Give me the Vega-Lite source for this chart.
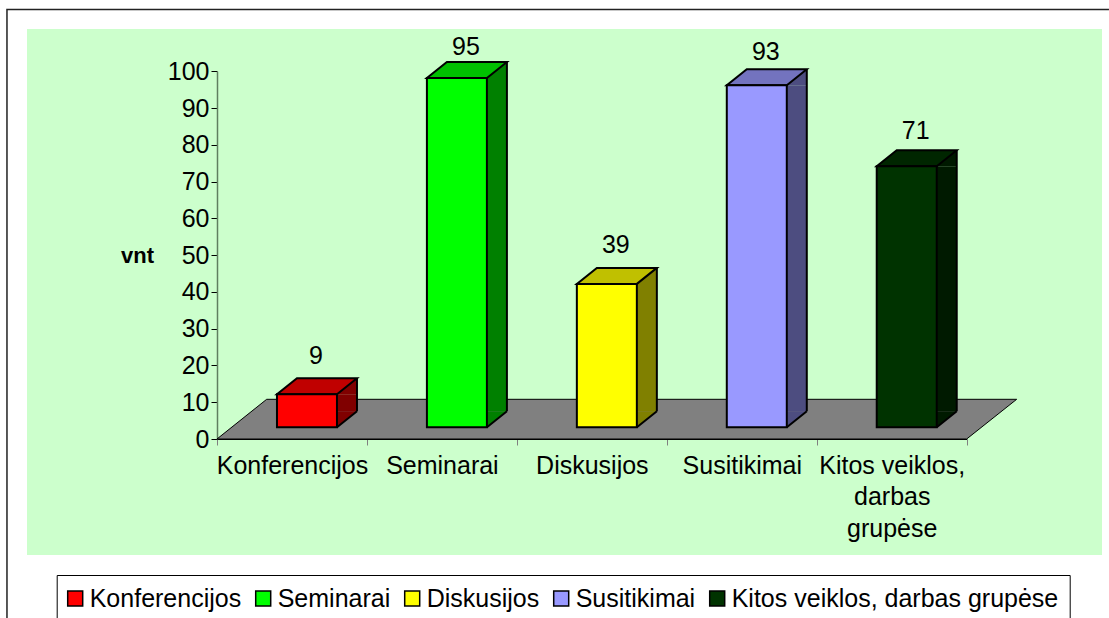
{
"$schema":"https://vega.github.io/schema/vega-lite/v6.json",
"width":1075,"height":526,"autosize":{"type":"none"},
"padding":{"left":27,"top":29,"right":7,"bottom":63},
"background":"white",
"view":{"fill":"#CCFFCC","stroke":null},
"config":{"font":"Liberation Sans"},
"data":{"values":[
{"cat":"Konferencijos","v":9},
{"cat":"Seminarai","v":95},
{"cat":"Diskusijos","v":39},
{"cat":"Susitikimai","v":93},
{"cat":"Kitos veiklos, darbas grupėse","v":71}
]},
"encoding":{
"x":{"field":"cat","type":"nominal","sort":null,"title":null,
"scale":{"type":"band","domain":["Konferencijos","Seminarai","Diskusijos","Susitikimai","Kitos veiklos, darbas grupėse"],"range":[190,939.7],"paddingInner":0,"paddingOuter":0},
"axis":{"orient":"bottom","offset":-116,"labelAngle":0,"tickBand":"extent","tickSize":6,"tickColor":"#808080","tickWidth":1,"domainColor":"#000000","grid":false,"labelFont":"Liberation Sans","labelFontSize":25,"labelColor":"#000000","labelPadding":8,"labelLimit":400,"labelLineHeight":31.5,"labelBaseline":"top",
"labelExpr":"datum.label=='Kitos veiklos, darbas grupėse'?['Kitos veiklos,','darbas','grupėse']:datum.label"}},
"y":{"field":"v","type":"quantitative","title":"vnt",
"scale":{"domain":[0,100],"range":[410,42.3],"nice":false},
"axis":{"orient":"left","offset":-190,"values":[0,10,20,30,40,50,60,70,80,90,100],"tickSize":6,"tickColor":"#000000","domainColor":"#5F7F5F","domainWidth":1.5,"grid":false,"labelFont":"Liberation Sans","labelFontSize":25,"labelColor":"#000000","labelPadding":2,
"titleFont":"Liberation Sans","titleFontSize":22,"titleFontWeight":"bold","titleColor":"#000000","titleAngle":0,"titleX":-80,"titleY":226,"titleAlign":"center","titleBaseline":"middle"}}
},
"layer":[
{"transform":[{"filter":"datum.cat=='Konferencijos'"}],
"mark":{"type":"point","shape":"M-285 179L-285 -429.5L817 -429.5","size":4,"filled":false,"fill":"transparent","stroke":"#222222","strokeWidth":1.5,"opacity":1},
"encoding":{"y":{"datum":0}}},
{"transform":[{"filter":"datum.cat=='Konferencijos'"}],
"mark":{"type":"point","shape":"M-75 0L674.7 0L724.7 -39.7L-25.3 -39.7Z","size":4,"filled":true,"fill":"#808080","stroke":"#000000","strokeWidth":1,"opacity":1},
"encoding":{"y":{"datum":0}}},
{"mark":{"type":"bar","width":20,"xOffset":55,"yOffset":-11.7,"y2Offset":-27.7},
"encoding":{"y2":{"datum":0},"fill":{"field":"cat","type":"nominal","legend":null,"scale":{"domain":["Konferencijos","Seminarai","Diskusijos","Susitikimai","Kitos veiklos, darbas grupėse"],"range":["#800000","#008000","#808000","#4D4D80","#001A00"]}}}},
{"mark":{"type":"point","shape":"M45 -11.7L45 -27.7L65 -27.7Z","size":4,"filled":true,"opacity":1},
"encoding":{"y":{"datum":0},"fill":{"field":"cat","type":"nominal","legend":null,"scale":{"domain":["Konferencijos","Seminarai","Diskusijos","Susitikimai","Kitos veiklos, darbas grupėse"],"range":["#800000","#008000","#808000","#4D4D80","#001A00"]}}}},
{"mark":{"type":"point","shape":"M45 -11.7L65 -27.7L65 -11.7Z","size":4,"filled":true,"opacity":1},
"encoding":{"fill":{"field":"cat","type":"nominal","legend":null,"scale":{"domain":["Konferencijos","Seminarai","Diskusijos","Susitikimai","Kitos veiklos, darbas grupėse"],"range":["#800000","#008000","#808000","#4D4D80","#001A00"]}}}},
{"mark":{"type":"point","shape":"M-15 -11.7L45 -11.7L65 -27.7L5 -27.7Z","size":4,"filled":true,"opacity":1,"stroke":"#000000","strokeWidth":2},
"encoding":{"fill":{"field":"cat","type":"nominal","legend":null,"scale":{"domain":["Konferencijos","Seminarai","Diskusijos","Susitikimai","Kitos veiklos, darbas grupėse"],"range":["#C00000","#00C000","#C0C000","#7373BF","#002600"]}}}},
{"mark":{"type":"rule","xOffset":65,"yOffset":-27.7,"y2Offset":-27.7,"stroke":"#000000","strokeWidth":2},
"encoding":{"y2":{"datum":0}}},
{"mark":{"type":"point","shape":"M45 -11.7L65 -27.7","size":4,"filled":false,"fill":"transparent","stroke":"#000000","strokeWidth":2,"opacity":1},
"encoding":{"y":{"datum":0}}},
{"mark":{"type":"bar","width":60,"xOffset":15,"yOffset":-11.7,"y2Offset":-11.7,"stroke":"#000000","strokeWidth":2},
"encoding":{"y2":{"datum":0},"fill":{"field":"cat","type":"nominal","scale":{"domain":["Konferencijos","Seminarai","Diskusijos","Susitikimai","Kitos veiklos, darbas grupėse"],"range":["#FF0000","#00FF00","#FFFF00","#9999FF","#003300"]},
"legend":{"orient":"none","legendX":29.7,"legendY":546,"direction":"horizontal","columns":5,"gridAlign":"none","title":null,"symbolType":"square","symbolSize":225,"symbolStrokeColor":"#000000","symbolStrokeWidth":1.5,"symbolOffset":-5,"strokeColor":"#000000","fillColor":"#FFFFFF","padding":11,"labelFont":"Liberation Sans","labelFontSize":25,"labelColor":"#000000","labelLimit":500,"labelOffset":2,"columnPadding":11}}}},
{"mark":{"type":"text","font":"Liberation Sans","fontSize":25,"color":"#000000","baseline":"middle","align":"center","xOffset":24,"dy":{"expr":"datum.v==9?-50:datum.v==39?-51:datum.v==71?-47:datum.v==93?-45:-43"}},
"encoding":{"text":{"field":"v","type":"quantitative"}}}
],
"resolve":{"scale":{"fill":"independent"}}
}
